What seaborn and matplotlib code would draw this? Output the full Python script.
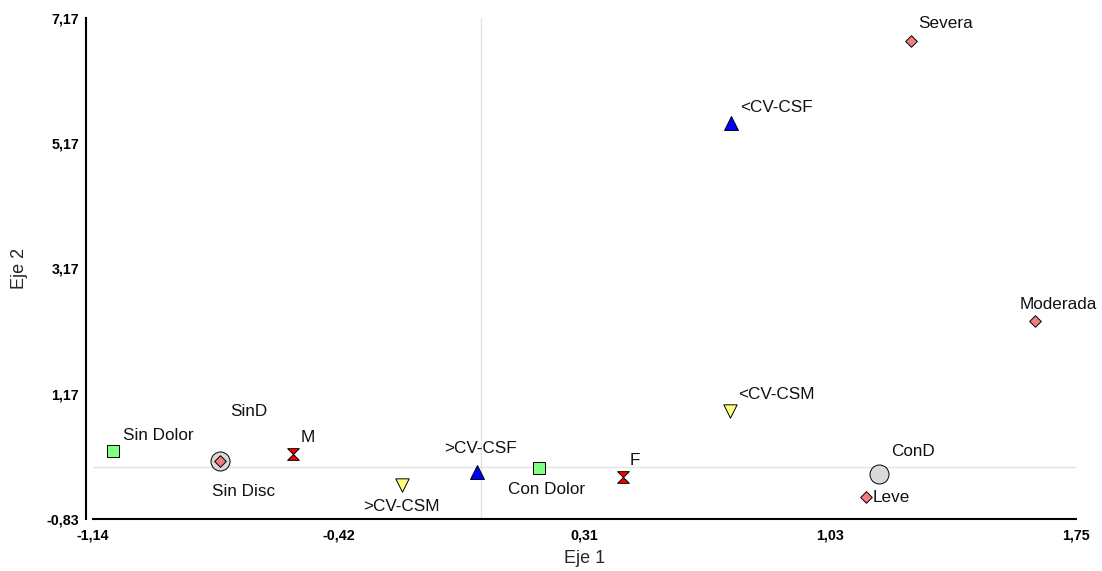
import numpy as np
import pandas as pd
import matplotlib
matplotlib.use("Agg")
import matplotlib.pyplot as plt
from matplotlib.path import Path
from matplotlib.ticker import FixedLocator, FixedFormatter
import seaborn as sns

# ---- data ----
labels = ["SinD", "ConD",
          "Sin Dolor", "Con Dolor",
          "Sin Disc", "Leve", "Moderada", "Severa",
          "M", "F",
          ">CV-CSF", "<CV-CSF",
          ">CV-CSM", "<CV-CSM"]
eje1 = [-0.766, 1.170,
        -1.080, 0.170,
        -0.766, 1.133, 1.630, 1.266,
        -0.551, 0.418,
        -0.011, 0.736,
        -0.232, 0.734]
eje2 = [0.10, -0.112,
        0.26, -0.022,
        0.10, -0.479, 2.324, 6.808,
        0.212, -0.166,
        -0.08, 5.49,
        -0.28, 0.898]
grupo = ["D", "D",
         "Dolor", "Dolor",
         "Disc", "Disc", "Disc", "Disc",
         "Sexo", "Sexo",
         "CSF", "CSF",
         "CSM", "CSM"]
xtick_labels = ["-1,14", "-0,42", "0,31", "1,03", "1,75"]
ytick_labels = ["-0,83", "1,17", "3,17", "5,17", "7,17"]

df = pd.DataFrame({"label": labels, "x": eje1, "y": eje2, "grupo": grupo})

# ---- styles ----
hourglass = Path([(-1, 1), (1, 1), (-1, -1), (1, -1), (-1, 1)],
                 [Path.MOVETO, Path.LINETO, Path.LINETO, Path.LINETO, Path.CLOSEPOLY])
styles = {
    "D":     dict(marker="o", color="#D9D9D9", size=13.7),
    "Dolor": dict(marker="s", color="#80FF80", size=9.0),
    "Disc":  dict(marker="D", color="#F08080", size=5.9),
    "Sexo":  dict(marker=hourglass, color="#FF0000", size=8.4),
    "CSF":   dict(marker="^", color="#0000FF", size=10.0),
    "CSM":   dict(marker="v", color="#FFFF80", size=9.6),
}
# label offsets in pixels (dx, dy, ha)
offsets = {
    "SinD": (10, 49, "left"), "ConD": (12, 23, "left"),
    "Sin Dolor": (10, 15, "left"), "Con Dolor": (8, -21, "center"),
    "Sin Disc": (-8, -31, "left"), "Leve": (6, 0, "left"),
    "Moderada": (-16, 17, "left"), "Severa": (7, 17, "left"),
    "M": (7, 16, "left"), "F": (7, 17, "left"),
    ">CV-CSF": (3, 24, "center"), "<CV-CSF": (9, 16, "left"),
    ">CV-CSM": (0, -22, "center"), "<CV-CSM": (8, 16, "left"),
}

sns.set_style("white")
plt.rcParams["font.family"] = ["Liberation Sans", "DejaVu Sans"]

W, H = 1102, 571
fig = plt.figure(figsize=(W / 100, H / 100), dpi=100)
ax = fig.add_axes([93 / W, (H - 519) / H, (1076 - 93) / W, (519 - 18) / H])

xmin, xmax = -1.14, 1.75
ymin, ymax = -0.83, 7.17

ax.axvline(0, color="#e3e3e3", lw=1.0, zorder=0)
ax.axhline(0, color="#e3e3e3", lw=1.0, zorder=0)

for g in ["D", "Dolor", "Disc", "Sexo", "CSF", "CSM"]:
    sub = df[df["grupo"] == g]
    st = styles[g]
    sns.scatterplot(data=sub, x="x", y="y", ax=ax, marker=st["marker"],
                    color=st["color"], s=st["size"] ** 2,
                    edgecolor="black", linewidth=0.7, zorder=3, legend=False)

for _, r in df.iterrows():
    dx, dy, ha = offsets[r["label"]]
    ax.annotate(r["label"], (r["x"], r["y"]), xytext=(dx, dy),
                textcoords="offset pixels", ha=ha, va="center",
                fontsize=12.3, color="#111111", zorder=4)

ax.set_xlim(xmin, xmax)
ax.set_ylim(ymin, ymax)
ax.xaxis.set_major_locator(FixedLocator(np.linspace(xmin, xmax, 5)))
ax.xaxis.set_major_formatter(FixedFormatter(xtick_labels))
ax.yaxis.set_major_locator(FixedLocator(np.linspace(ymin, ymax, 5)))
ax.yaxis.set_major_formatter(FixedFormatter(ytick_labels))

for s in ["top", "right"]:
    ax.spines[s].set_visible(False)
for s in ["left", "bottom"]:
    ax.spines[s].set_linewidth(1.5)
    ax.spines[s].set_color("black")
ax.spines["left"].set_position(("outward", 5))

ax.tick_params(axis="both", direction="out", length=3, width=1.2, color="black",
               labelsize=10.3, labelcolor="black", pad=2)
ax.tick_params(axis="x", pad=4)
for lab in ax.get_xticklabels() + ax.get_yticklabels():
    lab.set_fontweight("bold")

ax.set_xlabel("Eje 1", fontsize=13, labelpad=5)
ax.set_ylabel("Eje 2", fontsize=13, labelpad=13)

fig.savefig("out.png", dpi=100)
